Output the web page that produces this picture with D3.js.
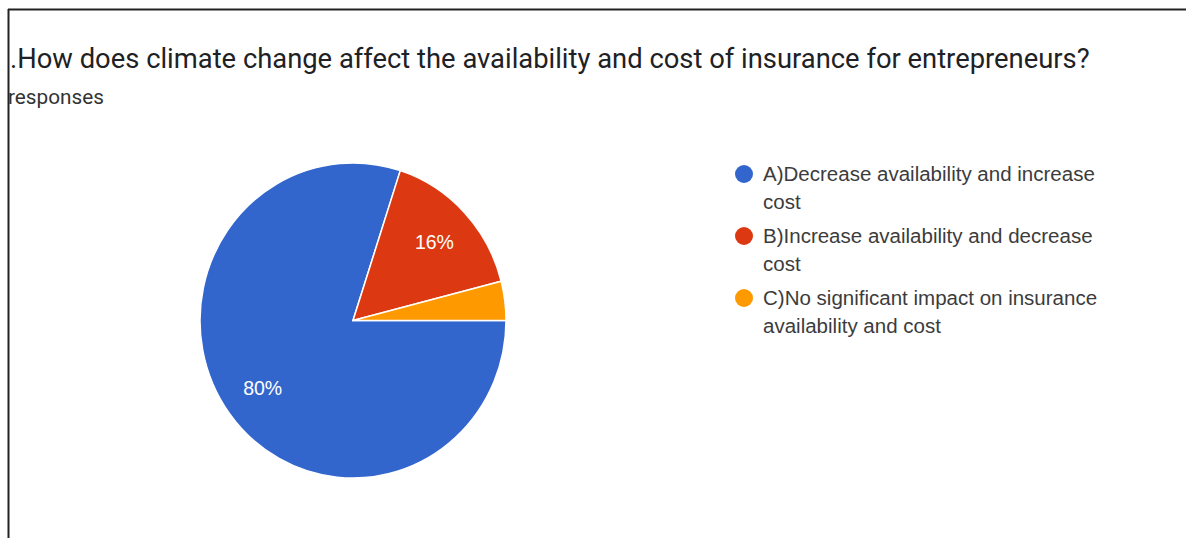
<!DOCTYPE html>
<html>
<head>
<meta charset="utf-8">
<script src="https://cdn.jsdelivr.net/npm/d3@7"></script>
<style>
  html, body { margin: 0; padding: 0; background: #fff; }
  svg { display: block; }
</style>
</head>
<body>
<svg id="chart" width="1186" height="538"></svg>
<script>
// Survey answers and their share of responses (%)
const categories = [
  "A)Decrease availability and increase cost",
  "B)Increase availability and decrease cost",
  "C)No significant impact on insurance availability and cost"
];
const legendLines = [
  ["A)Decrease availability and increase", "cost"],
  ["B)Increase availability and decrease", "cost"],
  ["C)No significant impact on insurance", "availability and cost"]
];
const values = [80, 16, 4];
const colors = ["#3366cc", "#dc3912", "#ff9900"];
const titleText = ".How does climate change affect the availability and cost of insurance for entrepreneurs?";
const subtitleText = "responses";

const svg = d3.select("#chart");

// scale a text's font so it spans the given width
function fitWidth(sel, base, width) {
  const w = sel.node().getComputedTextLength();
  sel.attr("font-size", base * width / w);
  return base * width / w;
}

// card frame: top and left edges
svg.append("line").attr("x1", 8).attr("y1", 9.5).attr("x2", 1186).attr("y2", 9.5)
  .attr("stroke", "#222").attr("stroke-width", 2);
svg.append("line").attr("x1", 8.5).attr("y1", 9).attr("x2", 8.5).attr("y2", 538)
  .attr("stroke", "#222").attr("stroke-width", 2);

// heading
const title = svg.append("text")
  .attr("x", 10).attr("y", 68)
  .attr("font-family", "Roboto, sans-serif")
  .attr("font-size", 22)
  .attr("fill", "#202124")
  .text(titleText);
fitWidth(title, 22, 1080);

const sub = svg.append("text")
  .attr("x", 8).attr("y", 104)
  .attr("font-family", "Roboto, sans-serif")
  .attr("font-size", 16)
  .attr("fill", "#333")
  .text(subtitleText);
fitWidth(sub, 16, 96);

// pie
const cx = 353, cy = 320.5, r = 153, sy = 1.03;
const total = d3.sum(values);
const pie = d3.pie().sort(null)
  .startAngle(Math.PI / 2).endAngle(Math.PI / 2 + 2 * Math.PI);
const arcs = pie(values);
const arc = d3.arc().innerRadius(0).outerRadius(r);
const labelArc = d3.arc().innerRadius(r * 0.73).outerRadius(r * 0.73);

const g = svg.append("g").attr("transform", `translate(${cx},${cy}) scale(1,${sy})`);
g.selectAll("path").data(arcs).enter().append("path")
  .attr("d", arc)
  .attr("fill", (d, i) => colors[i])
  .attr("stroke", "#fff")
  .attr("stroke-width", 1.5);

// percentage labels on slices large enough to hold them
svg.append("g").selectAll("text")
  .data(arcs.filter(d => d.value / total >= 0.05))
  .enter().append("text")
  .attr("x", d => cx + labelArc.centroid(d)[0])
  .attr("y", d => cy + labelArc.centroid(d)[1] * sy)
  .attr("dy", "0.36em")
  .attr("text-anchor", "middle")
  .attr("font-family", "Arial, 'Liberation Sans', sans-serif")
  .attr("font-size", 19.5)
  .attr("fill", "#fff")
  .text(d => Math.round(d.value / total * 100) + "%");

// legend
const legend = svg.append("g");
const lg = legend.selectAll("g").data(categories).enter().append("g")
  .attr("transform", (d, i) => `translate(744,${174 + i * 62})`);
lg.append("circle").attr("r", 9).attr("fill", (d, i) => colors[i]);
const texts = lg.append("text")
  .attr("x", 19).attr("y", 6.5)
  .attr("font-family", "Arial, 'Liberation Sans', sans-serif")
  .attr("font-size", 17)
  .attr("fill", "#3c3c3c");
texts.each(function (d, i) {
  const t = d3.select(this);
  legendLines[i].forEach((line, j) => {
    t.append("tspan").attr("x", 19).attr("dy", j === 0 ? 0 : 28).text(line);
  });
});
// size legend text so the first entry's top line spans its column
const firstLine = texts.filter((d, i) => i === 0).select("tspan");
const lfs = 17 * 332 / firstLine.node().getComputedTextLength();
texts.attr("font-size", lfs);
</script>
</body>
</html>
